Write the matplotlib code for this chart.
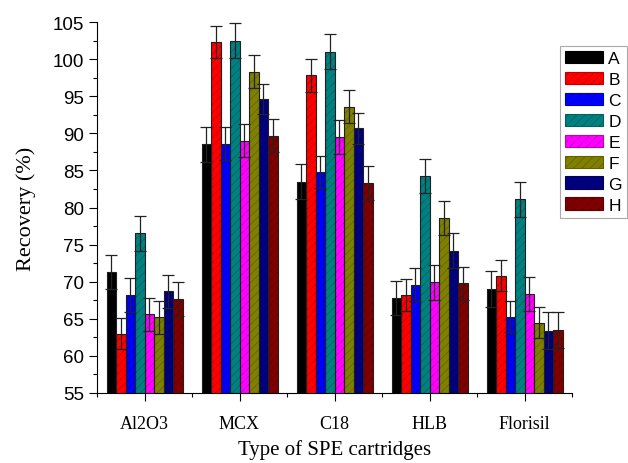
import numpy as np
import matplotlib as mpl
mpl.use('Agg')
from matplotlib import pyplot as plt

# categories and series
cartridges = ['Al2O3', 'MCX', 'C18', 'HLB', 'Florisil']
series_names = ['A', 'B', 'C', 'D', 'E', 'F', 'G', 'H']

rec_A = [71.3, 88.5, 83.5, 67.8, 69.0]
rec_B = [63.0, 102.3, 97.8, 68.2, 70.8]
rec_C = [68.2, 88.6, 84.8, 69.6, 65.3]
rec_D = [76.5, 102.5, 101.0, 84.3, 81.1]
rec_E = [65.6, 89.0, 89.5, 69.9, 68.3]
rec_F = [65.2, 98.3, 93.6, 78.6, 64.5]
rec_G = [68.7, 94.6, 90.7, 74.2, 63.4]
rec_H = [67.7, 89.7, 83.3, 69.8, 63.5]

err_A = [2.3, 2.4, 2.3, 2.3, 2.4]
err_B = [2.1, 2.2, 2.2, 2.2, 2.1]
err_C = [2.3, 2.2, 2.2, 2.2, 2.1]
err_D = [2.3, 2.3, 2.4, 2.3, 2.4]
err_E = [2.2, 2.2, 2.3, 2.3, 2.3]
err_F = [2.2, 2.2, 2.2, 2.3, 2.1]
err_G = [2.2, 2.0, 2.1, 2.4, 2.5]
err_H = [2.3, 2.2, 2.3, 2.2, 2.4]

recoveries = [rec_A, rec_B, rec_C, rec_D, rec_E, rec_F, rec_G, rec_H]
errors = [err_A, err_B, err_C, err_D, err_E, err_F, err_G, err_H]

bar_colors = ['#000000', '#ff0000', '#0000ff', '#008080',
              '#ff00ff', '#808000', '#000080', '#800000']
hatch_colors = ['#000000', '#c00000', '#0000c0', '#006060',
                '#c000c0', '#606000', '#000060', '#600000']

mpl.rcParams['hatch.linewidth'] = 0.5

fig = plt.figure(figsize=(6.28, 4.64), dpi=100)
ax = fig.add_axes([97/628, 1 - 394/464, (572 - 97)/628, (394 - 23)/464])

x = np.arange(len(cartridges))
width = 0.1
handles = []
for i, name in enumerate(series_names):
    pos = x + (i - 3.5) * width
    ax.bar(pos, recoveries[i], width, color=bar_colors[i],
           edgecolor=hatch_colors[i], hatch='////', linewidth=0, zorder=2)
    ax.bar(pos, recoveries[i], width, facecolor='none', edgecolor='#202020',
           linewidth=0.8, zorder=3)
    ax.errorbar(pos, recoveries[i], yerr=errors[i], fmt='none', ecolor='#222222',
                elinewidth=0.9, capsize=4, capthick=0.9, zorder=4)
    handles.append(mpl.patches.Patch(facecolor=bar_colors[i], edgecolor=hatch_colors[i],
                                     hatch='////', linewidth=0.8, label=name))

ax.set_xlim(-0.5, 4.5)
ax.set_ylim(55, 105)
ax.set_yticks(np.arange(55, 106, 5))
ax.set_yticks(np.arange(57.5, 105, 5), minor=True)
ax.set_xticks(x)
ax.set_xticks(np.arange(-0.5, 5, 1), minor=True)
ax.set_xticklabels(cartridges, fontfamily='Liberation Serif', fontsize=13)
for lab in ax.get_yticklabels():
    lab.set_fontfamily('Liberation Sans')
    lab.set_fontsize(13.5)
ax.tick_params(which='major', length=6, width=0.8, direction='out')
ax.tick_params(which='minor', length=3, width=0.8, direction='out')
ax.tick_params(axis='x', which='major', pad=10)
ax.spines['top'].set_visible(False)
ax.spines['right'].set_visible(False)

ax.set_ylabel('Recovery (%)', fontfamily='Liberation Serif', fontsize=16, labelpad=12)
ax.set_xlabel('Type of SPE cartridges', fontfamily='Liberation Serif', fontsize=15, labelpad=5)

leg = fig.legend(handles=handles, loc='upper right', bbox_to_anchor=(627/628, 1 - 47/464),
                 prop={'family': 'Liberation Sans', 'size': 12.5}, handlelength=2.2,
                 handleheight=0.7, labelspacing=0.33, handletextpad=0.3,
                 borderpad=0.3, borderaxespad=0, fancybox=False, framealpha=1)
leg.get_frame().set_edgecolor('#aaaaaa')
leg.get_frame().set_linewidth(0.8)

fig.savefig('out.png', dpi=100)
